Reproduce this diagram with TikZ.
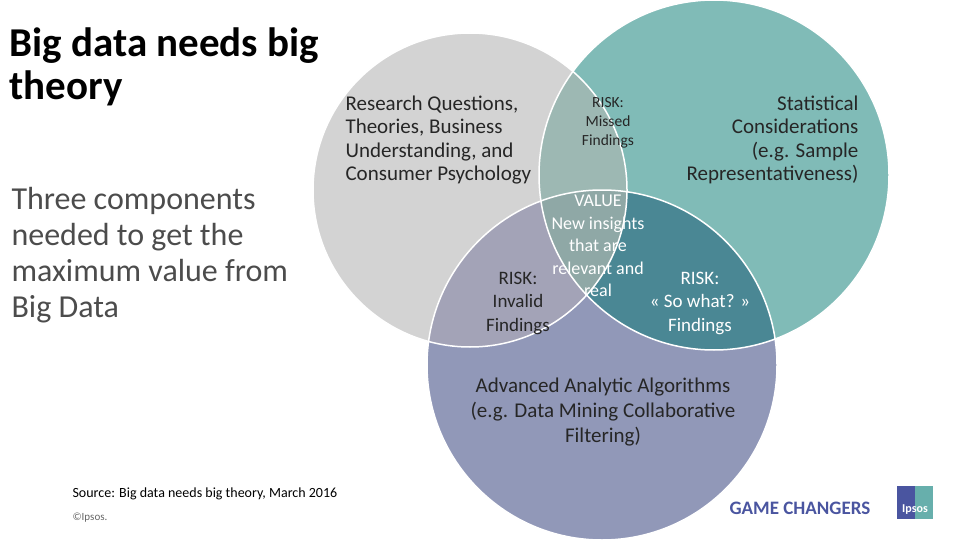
\documentclass[tikz,border=0pt]{standalone}
\usepackage{fontspec}
\setmainfont{Carlito}
\setsansfont{Carlito}
\begin{document}
\begin{tikzpicture}[x=1pt,y=-1pt,
  lbl/.style={align=center,text=#1},
  lbl/.default=black!85]
\definecolor{cg}{HTML}{D3D3D3}
\definecolor{ct}{HTML}{80BBB7}
\definecolor{cp}{HTML}{9198B8}
\definecolor{cgt}{HTML}{9DB8B3}
\definecolor{cgp}{HTML}{A3A3B7}
\definecolor{ctp}{HTML}{4A8794}
\definecolor{call}{HTML}{8FA8A6}
\definecolor{gc}{HTML}{4A55A0}
\useasboundingbox (0,0) rectangle (960,540);
\def\G{(470,190) circle (157)}
\def\T{(714,175) circle (175)}
\def\P{(602,365) circle (175)}
\fill[cg] \G; \fill[ct] \T; \fill[cp] \P;
\begin{scope}\clip \G; \fill[cgt] \T; \fill[cgp] \P; \end{scope}
\begin{scope}\clip \T; \fill[ctp] \P; \end{scope}
\begin{scope}\clip \G; \clip \T; \fill[call] \P; \end{scope}
\draw[white,line width=1.5] \G \T \P;
\node[anchor=north west,align=left,font=\fontsize{41}{43}\selectfont\bfseries] (title) at (6,24) {Big data needs big\\theory};
\node[anchor=north west,align=left,text=black!70,font=\fontsize{32}{36}\selectfont] (sub) at (8,184) {Three components\\needed to get the\\maximum value from\\Big Data};
\node[anchor=north west,align=left,font=\fontsize{21}{23.5}\selectfont,text=black!85] (g) at (342,92) {Research Questions,\\Theories, Business\\Understanding, and\\Consumer Psychology};
\node[align=right,anchor=north east,font=\fontsize{21}{23.5}\selectfont,text=black!85] (t) at (862,92) {Statistical\\Considerations\\(e.g. Sample\\Representativeness)};
\node[lbl,font=\fontsize{21}{25}\selectfont] (p) at (603,412) {Advanced Analytic Algorithms\\(e.g. Data Mining Collaborative\\Filtering)};
\node[lbl,font=\fontsize{15.5}{19}\selectfont] (gt) at (608,123) {RISK:\\Missed\\Findings};
\node[lbl,font=\fontsize{19}{23.5}\selectfont] (gp) at (518,303) {RISK:\\Invalid\\Findings};
\node[lbl=white,font=\fontsize{19}{23.5}\selectfont] (tp) at (700,303) {RISK:\\« So what? »\\Findings};
\node[lbl=white,font=\fontsize{18}{22.5}\selectfont] (all) at (598,246) {VALUE\\New insights\\that are\\relevant and\\real};
\node[anchor=west,font=\fontsize{14}{16}\selectfont] (src) at (69,494) {Source: Big data needs big theory, March 2016};
\node[anchor=west,text=black!60,font=\fontsize{11}{13}\selectfont] (cp) at (69,518) {©Ipsos.};
\node[anchor=west,text=gc,font=\fontsize{19}{22}\selectfont\bfseries] (gcx) at (726,508) {GAME CHANGERS};
\fill[gc] (897,486) rectangle (933,519);
\fill[ct!80!teal] (915,486) -- (933,486) -- (933,519) -- (915,519) -- cycle;
\node[white,font=\fontsize{12}{14}\selectfont\bfseries] (logo) at (915,510) {Ipsos};
\end{tikzpicture}
\end{document}
